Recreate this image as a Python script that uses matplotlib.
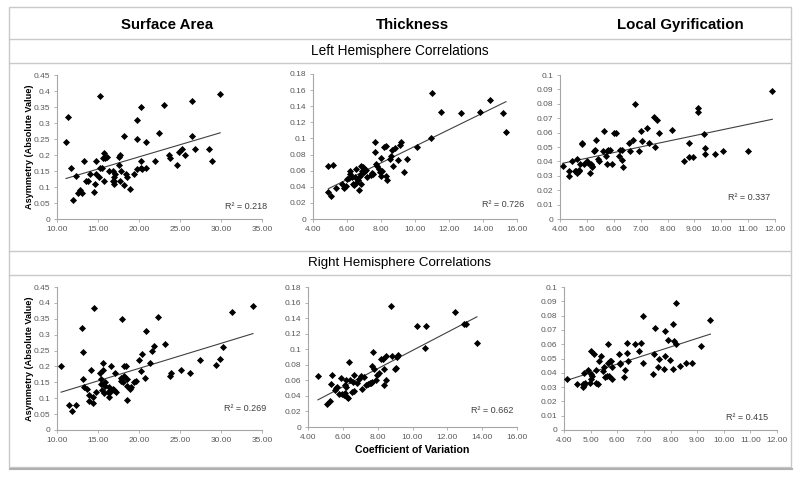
import matplotlib.pyplot as plt
import numpy as np
from matplotlib.lines import Line2D
from matplotlib.patches import Rectangle

# ---- data ----
measures = ['Surface Area', 'Thickness', 'Local Gyrification']
hemispheres = ['Left Hemisphere Correlations', 'Right Hemisphere Correlations']
r2_values = [0.218, 0.726, 0.337, 0.269, 0.662, 0.415]

left_sa_x = [11.1, 11.4, 11.7, 12.0, 12.3, 12.6, 12.8, 13.0, 13.3, 13.5, 13.8, 14.0, 14.5, 14.6,
             14.7, 14.8, 15.1, 15.2, 15.3, 15.5, 15.6, 15.7, 15.7, 15.9, 16.1, 16.4, 16.8, 16.8,
             16.9, 17.0, 17.0, 17.1, 17.5, 17.7, 17.6, 17.7, 17.8, 18.2, 18.2, 18.4, 18.5, 18.9,
             19.4, 19.7, 19.8, 19.8, 20.2, 20.3, 20.3, 20.4, 20.8, 20.9, 22.0, 22.5, 23.1, 23.7,
             23.8, 24.6, 24.9, 25.2, 25.6, 26.5, 26.5, 26.8, 28.5, 28.9, 29.9]
left_sa_y = [0.24, 0.32, 0.16, 0.06, 0.135, 0.08, 0.09, 0.08, 0.18, 0.12, 0.12, 0.14, 0.085, 0.11,
             0.14, 0.18, 0.13, 0.16, 0.385, 0.16, 0.19, 0.12, 0.205, 0.19, 0.195, 0.15, 0.15, 0.12,
             0.11, 0.13, 0.12, 0.14, 0.195, 0.2, 0.17, 0.12, 0.15, 0.105, 0.26, 0.14, 0.13, 0.095,
             0.14, 0.25, 0.155, 0.31, 0.35, 0.18, 0.16, 0.155, 0.24, 0.16, 0.18, 0.27, 0.355, 0.2,
             0.19, 0.17, 0.21, 0.22, 0.2, 0.26, 0.37, 0.22, 0.22, 0.18, 0.39]

left_th_x = [4.9, 4.9, 5.05, 5.2, 5.35, 5.7, 5.8, 5.95, 6.0, 6.1, 6.15, 6.2, 6.3, 6.35, 6.4, 6.45,
             6.5, 6.55, 6.65, 6.7, 6.75, 6.8, 6.8, 6.85, 6.9, 6.95, 7.0, 7.1, 7.2, 7.4, 7.45, 7.5,
             7.65, 7.65, 7.7, 7.75, 7.9, 7.95, 8.0, 8.0, 8.05, 8.2, 8.3, 8.3, 8.35, 8.5, 8.6, 8.65,
             8.7, 8.85, 9.0, 9.1, 9.15, 9.35, 9.5, 10.1, 10.95, 11.0, 11.5, 12.7, 13.8, 14.4, 15.2,
             15.35]
left_th_y = [0.034, 0.066, 0.029, 0.067, 0.039, 0.044, 0.038, 0.041, 0.05, 0.051, 0.059, 0.056,
             0.052, 0.043, 0.042, 0.052, 0.045, 0.062, 0.048, 0.036, 0.054, 0.056, 0.066, 0.043,
             0.06, 0.065, 0.058, 0.061, 0.052, 0.055, 0.057, 0.056, 0.083, 0.095, 0.068, 0.066,
             0.062, 0.058, 0.076, 0.054, 0.06, 0.09, 0.091, 0.053, 0.048, 0.074, 0.078, 0.086,
             0.066, 0.088, 0.073, 0.092, 0.095, 0.058, 0.075, 0.089, 0.101, 0.156, 0.133, 0.131,
             0.133, 0.148, 0.131, 0.108]

left_lg_x = [4.1, 4.35, 4.35, 4.45, 4.55, 4.6, 4.65, 4.65, 4.7, 4.7, 4.75, 4.8, 4.8, 4.9, 5.0,
             5.05, 5.1, 5.15, 5.2, 5.2, 5.25, 5.3, 5.35, 5.4, 5.45, 5.6, 5.65, 5.7, 5.75, 5.75,
             5.8, 5.85, 5.95, 6.0, 6.1, 6.2, 6.25, 6.3, 6.3, 6.35, 6.55, 6.6, 6.7, 6.8, 6.95, 7.0,
             7.05, 7.25, 7.3, 7.5, 7.55, 7.6, 7.7, 8.15, 8.6, 8.8, 8.8, 8.95, 9.15, 9.15, 9.35,
             9.4, 9.4, 9.75, 10.05, 11.0, 11.9]
left_lg_y = [0.037, 0.033, 0.030, 0.040, 0.033, 0.033, 0.042, 0.032, 0.033, 0.034, 0.038, 0.053,
             0.052, 0.038, 0.040, 0.039, 0.032, 0.038, 0.036, 0.037, 0.047, 0.048, 0.055, 0.042,
             0.040, 0.047, 0.061, 0.044, 0.047, 0.038, 0.048, 0.048, 0.038, 0.060, 0.060, 0.044,
             0.048, 0.048, 0.041, 0.036, 0.053, 0.047, 0.055, 0.080, 0.047, 0.061, 0.054, 0.063,
             0.053, 0.071, 0.050, 0.069, 0.060, 0.062, 0.040, 0.053, 0.043, 0.043, 0.074, 0.077,
             0.059, 0.049, 0.045, 0.045, 0.047, 0.047, 0.089]

right_sa_x = [10.5, 11.5, 11.8, 12.3, 13.0, 13.2, 13.2, 13.3, 13.7, 13.9, 13.9, 14.2, 14.4, 14.4,
              14.5, 14.8, 15.3, 15.35, 15.4, 15.5, 15.6, 15.6, 15.7, 15.8, 15.9, 16.2, 16.3, 16.3,
              16.6, 16.5, 16.8, 17.0, 17.1, 17.2, 17.8, 17.8, 17.9, 18.0, 18.2, 18.2, 18.4, 18.5,
              18.5, 18.5, 18.9, 19.0, 19.4, 19.6, 20.0, 20.3, 20.4, 20.7, 20.8, 21.3, 21.6, 21.8,
              22.3, 23.2, 23.8, 23.9, 25.1, 26.2, 27.5, 29.4, 29.9, 30.3, 31.4, 33.9]
right_sa_y = [0.2, 0.08, 0.06, 0.08, 0.32, 0.245, 0.16, 0.135, 0.13, 0.11, 0.09, 0.19, 0.085, 0.105,
              0.385, 0.12, 0.18, 0.145, 0.16, 0.125, 0.21, 0.19, 0.115, 0.14, 0.15, 0.12, 0.105,
              0.135, 0.2, 0.12, 0.13, 0.125, 0.18, 0.12, 0.155, 0.165, 0.35, 0.15, 0.2, 0.17, 0.2,
              0.16, 0.14, 0.095, 0.13, 0.135, 0.15, 0.155, 0.22, 0.185, 0.24, 0.165, 0.31, 0.21,
              0.25, 0.265, 0.355, 0.27, 0.17, 0.18, 0.19, 0.18, 0.22, 0.205, 0.225, 0.26, 0.37, 0.39]

right_th_x = [4.57, 5.1, 5.26, 5.3, 5.4, 5.53, 5.6, 5.65, 5.9, 5.8, 5.95, 6.05, 6.1, 6.15, 6.2, 6.2,
              6.25, 6.3, 6.33, 6.4, 6.5, 6.6, 6.65, 6.65, 6.8, 6.95, 7.05, 7.1, 7.2, 7.35, 7.45,
              7.55, 7.6, 7.65, 7.7, 7.75, 7.8, 7.9, 7.95, 8.1, 8.2, 8.3, 8.35, 8.35, 8.45, 8.45,
              8.75, 8.85, 9.0, 9.05, 9.1, 9.17, 10.25, 10.7, 10.8, 12.45, 12.95, 13.05, 13.7]
right_th_y = [0.066, 0.029, 0.034, 0.055, 0.067, 0.047, 0.05, 0.052, 0.063, 0.042, 0.042, 0.041,
              0.044, 0.054, 0.051, 0.06, 0.039, 0.037, 0.083, 0.06, 0.045, 0.058, 0.067, 0.046,
              0.057, 0.062, 0.066, 0.049, 0.064, 0.054, 0.055, 0.056, 0.057, 0.078, 0.058, 0.096,
              0.075, 0.06, 0.067, 0.069, 0.088, 0.087, 0.075, 0.054, 0.061, 0.091, 0.156, 0.091,
              0.074, 0.076, 0.09, 0.092, 0.13, 0.101, 0.13, 0.148, 0.133, 0.133, 0.108]

right_lg_x = [4.1, 4.5, 4.7, 4.7, 4.75, 4.75, 4.8, 4.9, 4.97, 5.0, 5.0, 5.03, 5.05, 5.13, 5.2, 5.2,
              5.27, 5.32, 5.38, 5.45, 5.5, 5.55, 5.6, 5.65, 5.65, 5.7, 5.72, 5.77, 5.79, 5.82,
              6.05, 6.1, 6.1, 6.26, 6.3, 6.36, 6.37, 6.42, 6.68, 6.8, 6.9, 6.95, 6.98, 7.33, 7.37,
              7.4, 7.53, 7.58, 7.75, 7.78, 7.8, 7.9, 7.97, 8.1, 8.1, 8.15, 8.2, 8.2, 8.35, 8.6,
              8.8, 9.15, 9.5]
right_lg_y = [0.036, 0.032, 0.032, 0.030, 0.0315, 0.040, 0.033, 0.042, 0.033, 0.036, 0.055, 0.039,
              0.038, 0.053, 0.033, 0.042, 0.032, 0.048, 0.052, 0.041, 0.044, 0.037, 0.038, 0.047,
              0.060, 0.038, 0.048, 0.048, 0.044, 0.036, 0.053, 0.047, 0.046, 0.037, 0.042, 0.061,
              0.054, 0.048, 0.060, 0.055, 0.061, 0.080, 0.047, 0.039, 0.053, 0.0715, 0.044, 0.050,
              0.043, 0.052, 0.069, 0.063, 0.049, 0.043, 0.074, 0.062, 0.060, 0.089, 0.045, 0.047,
              0.047, 0.059, 0.077]

series = [(left_sa_x, left_sa_y), (left_th_x, left_th_y), (left_lg_x, left_lg_y),
          (right_sa_x, right_sa_y), (right_th_x, right_th_y), (right_lg_x, right_lg_y)]

# axis scales per column
x_ranges = [(10, 35, 5), (4, 16, 2), (4, 12, 1)]
y_ranges = [(0.45, 0.05), (0.18, 0.02), (0.1, 0.01)]

W, H = 800, 478
fig = plt.figure(figsize=(8, 4.78), dpi=100)
fig.patch.set_facecolor('white')

def fx(x):
    return x / W

def fy(y):
    return 1 - y / H

plain = ['Liberation Sans', 'DejaVu Sans']

# table frame
grid_col = '#c9c9c9'
fig.add_artist(Rectangle((fx(9), fy(467)), fx(791) - fx(9), fy(7) - fy(467),
                         transform=fig.transFigure, fill=False, ec=grid_col, lw=1.0))
fig.add_artist(Line2D([fx(10), fx(792)], [fy(469), fy(469)], transform=fig.transFigure,
                      color='#b0b0b0', lw=1.5))
for yy in [39, 63, 251, 275]:
    fig.add_artist(Line2D([fx(9), fx(791)], [fy(yy), fy(yy)], transform=fig.transFigure,
                          color=grid_col, lw=1.0))

header_x = [167, 412, 680]
for name, hx in zip(measures, header_x):
    fig.text(fx(hx), fy(25), name, ha='center', va='center', fontsize=10.8,
             fontweight='bold', family=plain)
fig.text(fx(400), fy(51), hemispheres[0], ha='center', va='center', fontsize=9.8, family=plain)
fig.text(fx(400), fy(263), hemispheres[1], ha='center', va='center', fontsize=9.6, family=plain)

# panel rectangles in pixels: left, right, top, bottom
rects = [(57, 262, 75, 219), (313, 517, 74, 219), (560, 775, 75, 219),
         (57, 262, 287, 430), (308, 517, 287, 427), (564, 777, 287, 430)]
r2_pos = [(0.92, 0.09), (0.93, 0.10), (0.88, 0.15), (0.92, 0.15), (0.88, 0.12), (0.86, 0.09)]

axis_col = '#a6a6a6'
label_col = '#595959'

for i, ((xs, ys), (l, r, t, b)) in enumerate(zip(series, rects)):
    col = i % 3
    ax = fig.add_axes([fx(l), fy(b), fx(r) - fx(l), fy(t) - fy(b)])
    xs = np.array(xs)
    ys = np.array(ys)
    ax.scatter(xs, ys, marker='D', s=13, color='black', lw=0, zorder=3)
    k, c = np.polyfit(xs, ys, 1)
    xl = np.array([xs.min(), xs.max()])
    ax.plot(xl, k * xl + c, color='#404040', lw=0.8, zorder=2)

    x0, x1, xstep = x_ranges[col]
    ymax, ystep = y_ranges[col]
    ax.set_xlim(x0, x1)
    ax.set_ylim(0, ymax)
    xt = np.arange(x0, x1 + xstep / 2, xstep)
    yt = np.arange(0, ymax + ystep / 2, ystep)
    ax.set_xticks(xt)
    ax.set_xticklabels(['%.2f' % v for v in xt])
    ax.set_yticks(yt)
    ax.set_yticklabels(['0' if v < 1e-9 else ('%g' % round(v, 3)) for v in yt])
    for s in ['top', 'right']:
        ax.spines[s].set_visible(False)
    for s in ['left', 'bottom']:
        ax.spines[s].set_color(axis_col)
        ax.spines[s].set_linewidth(0.8)
    ax.tick_params(axis='both', direction='out', length=2.5, width=0.6, color=axis_col,
                   labelsize=6, labelcolor=label_col, pad=2.5)
    for lab in ax.get_xticklabels() + ax.get_yticklabels():
        lab.set_family(plain)
    ax.patch.set_alpha(0)

    px, py = r2_pos[i]
    ax.text(px, py, 'R\u00b2 = %.3f' % r2_values[i], transform=ax.transAxes, ha='center',
            va='center', fontsize=6.5, color='#404040', family=plain)

    if col == 0:
        ax.set_ylabel('Asymmetry (Absolute Value)', fontsize=6.6, fontweight='bold',
                      family=plain)
        ax.yaxis.set_label_coords((34 - l) / (r - l), 0.5)

fig.text(fx(412), fy(450), 'Coefficient of Variation', ha='center', va='center',
         fontsize=7.6, fontweight='bold', family=plain)

fig.savefig('out.png', dpi=100)
